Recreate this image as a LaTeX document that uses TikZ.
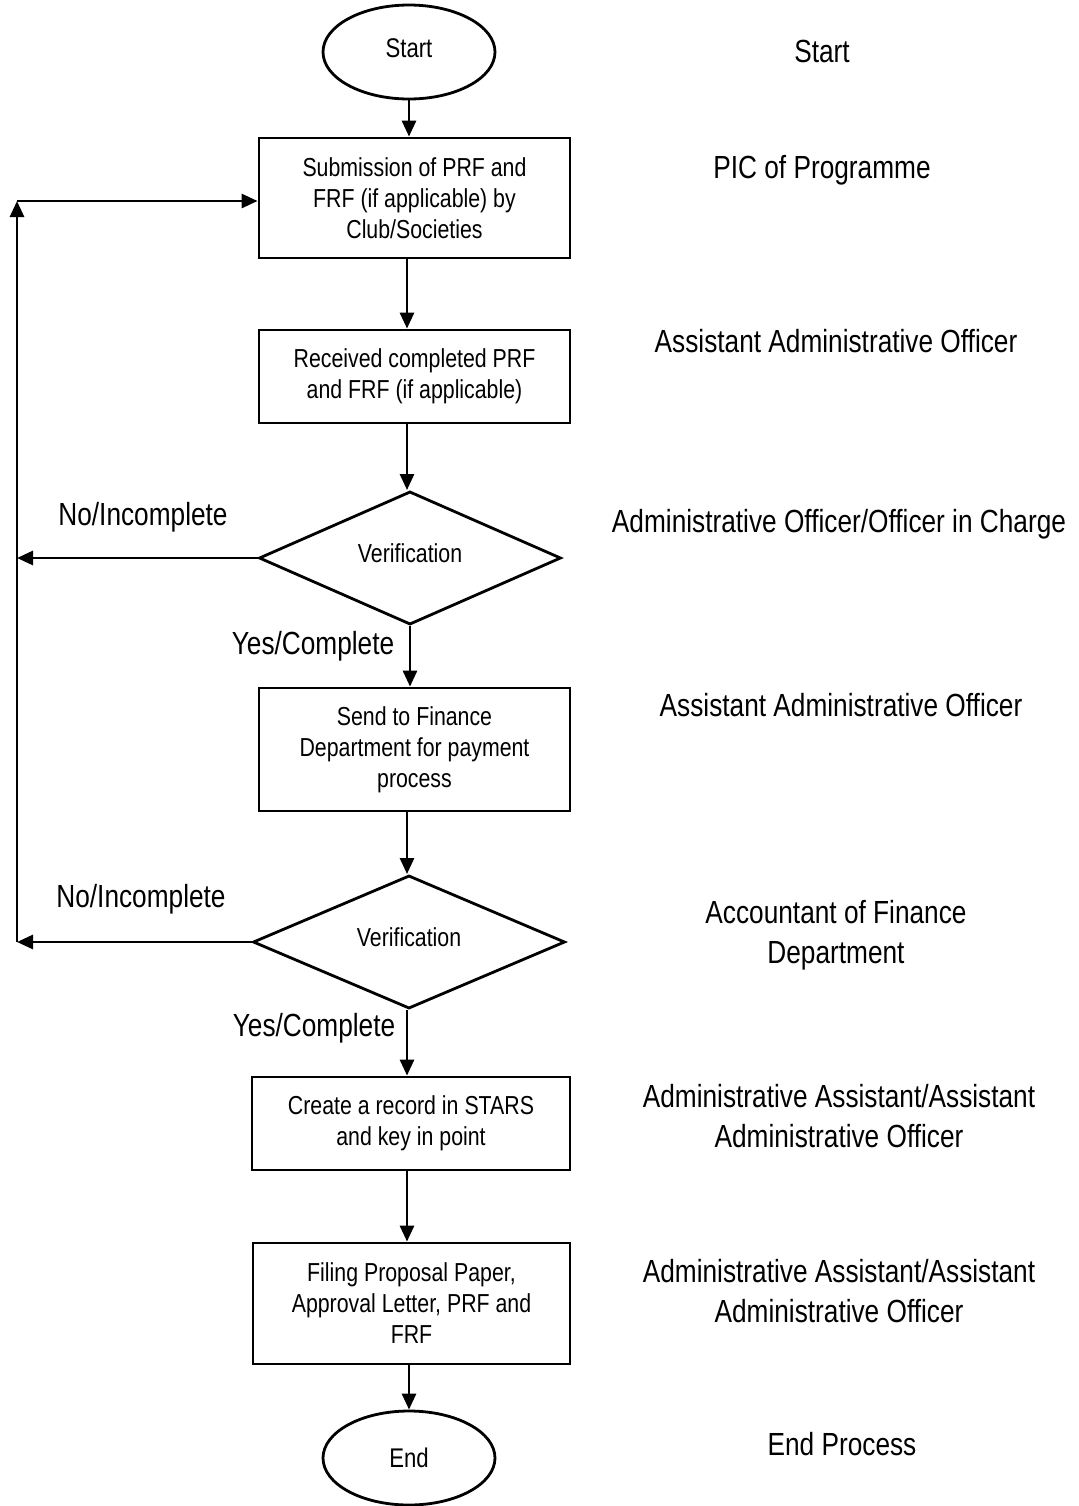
\documentclass[tikz,border=0pt]{standalone}
\usepackage{fontspec}
\setmainfont{Liberation Sans}[FakeStretch=0.82]
\usetikzlibrary{shapes.geometric,arrows.meta}
\begin{document}
\begin{tikzpicture}[x=0.5pt,y=-0.5pt,
  line width=1.4pt,
  arr/.style={-{Triangle[length=8pt,width=7pt]}},
  procbox/.style={draw,rectangle,align=center,inner sep=0pt,font=\fontsize{13}{15.5}\selectfont},
  terminal/.style={draw,ellipse,inner sep=0pt,minimum width=86pt,minimum height=47pt,font=\fontsize{13.5}{15.5}\selectfont},
  decision/.style={draw,diamond,inner sep=0pt,font=\fontsize{13}{15.5}\selectfont},
  role/.style={align=center,font=\fontsize{16}{20}\selectfont},
  branch/.style={font=\fontsize{16}{20}\selectfont}]
\useasboundingbox (0,0) rectangle (1079,1506);
% flow nodes
\node[terminal] (start) at (409,52) {\raisebox{4pt}{Start}};
\node[procbox,minimum width=155.5pt,minimum height=60pt] (sub) at (414.5,198) {Submission of PRF and\\FRF (if applicable) by\\Club/Societies};
\node[procbox,minimum width=155.5pt,minimum height=46.5pt] (rec) at (414.5,376.5) {Received completed PRF\\and FRF (if applicable)};
\node[decision,minimum width=151pt,minimum height=64pt] (ver1) at (410,558) {\raisebox{5pt}{Verification}};
\node[procbox,minimum width=155.5pt,minimum height=61.5pt] (send) at (414.5,749.5) {Send to Finance\\Department for payment\\process};
\node[decision,minimum width=156pt,minimum height=64pt] (ver2) at (409,942) {\raisebox{5pt}{Verification}};
\node[procbox,minimum width=159pt,minimum height=46.5pt] (stars) at (411,1123.5) {Create a record in STARS\\and key in point};
\node[procbox,minimum width=158.5pt,minimum height=60.5pt] (file) at (411.5,1303.5) {Filing Proposal Paper,\\Approval Letter, PRF and\\FRF};
\node[terminal] (end) at (409,1458) {End};
% left return line coordinates
\coordinate (l1) at (17,558);
\coordinate (l2) at (17,942);
\coordinate (ltop) at (17,201);
% connectors
\draw[arr] (start.south) -- (start.south |- sub.north);
\draw[arr] (sub.south -| 407,0) -- (rec.north -| 407,0);
\draw[arr] (rec.south -| 407,0) -- (ver1.north -| 407,0);
\draw[arr] (ver1.south) -- (ver1.south |- send.north);
\draw[arr] (send.south -| 407,0) -- (ver2.north -| 407,0);
\draw[arr] (ver2.south -| 407,0) -- (stars.north -| 407,0);
\draw[arr] (stars.south -| 407,0) -- (file.north -| 407,0);
\draw[arr] (file.south -| 409,0) -- (end.north);
\draw[arr] (ver1.west) -- (l1);
\draw[arr] (ver2.west) -- (l2);
\draw[arr] (l2) -- (ltop);
\draw[arr] (ltop) -- (ltop -| sub.west);
% branch labels
\node[branch] (no1) at (143,517) {No/Incomplete};
\node[branch] (no2) at (141,899) {No/Incomplete};
\node[branch] (yes1) at (313,646) {Yes/Complete};
\node[branch] (yes2) at (314,1028) {Yes/Complete};
% role labels
\node[role] (r1) at (822,51) {Start};
\node[role] (r2) at (822,170) {PIC of Programme};
\node[role] (r3) at (836,341) {Assistant Administrative Officer};
\node[role] (r4) at (839,524) {Administrative Officer/Officer in Charge};
\node[role] (r5) at (841,705) {Assistant Administrative Officer};
\node[role] (r6) at (836,935) {Accountant of Finance\\Department};
\node[role] (r7) at (839,1116) {Administrative Assistant/Assistant\\Administrative Officer};
\node[role] (r8) at (839,1291) {Administrative Assistant/Assistant\\Administrative Officer};
\node[role] (r9) at (842,1444) {End Process};
\end{tikzpicture}
\end{document}
